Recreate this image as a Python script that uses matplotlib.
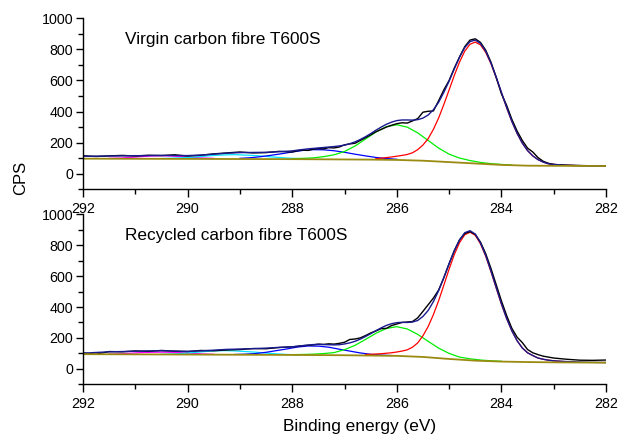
import matplotlib
matplotlib.use("Agg")
import matplotlib.pyplot as plt
from matplotlib.ticker import MultipleLocator

plt.rcParams['font.family'] = ['Liberation Sans', 'DejaVu Sans']

# ---------------- shared energy grid for raw data and envelope ----------------
energy = [292.0, 291.75, 291.5, 291.25, 291.0, 290.75, 290.5, 290.25, 290.0, 289.75,
          289.5, 289.25, 289.0, 288.75, 288.5, 288.25,
          288.0, 287.9, 287.8, 287.7, 287.6, 287.5, 287.4, 287.3, 287.2, 287.1,
          287.0, 286.9, 286.8, 286.7, 286.6, 286.5, 286.4, 286.3, 286.2, 286.1,
          286.0, 285.9, 285.8, 285.7, 285.6, 285.5, 285.4, 285.3, 285.2, 285.1,
          285.0, 284.9, 284.8, 284.7, 284.6, 284.5, 284.4, 284.3, 284.2, 284.1,
          284.0, 283.9, 283.8, 283.7, 283.6, 283.5, 283.4, 283.3, 283.2, 283.1,
          283.0, 282.75, 282.5, 282.25, 282.0]

# ---------------- Virgin (top) ----------------
virgin_raw = [116, 111, 115, 118, 114, 119, 117, 122, 114, 119,
              128, 134, 140, 134, 136, 144,
              140, 148, 152, 150, 158, 162, 160, 168, 166, 172,
              186, 192, 196, 214, 232, 250, 270, 285, 300, 312,
              322, 328, 326, 340, 355, 396, 402, 404, 470, 540,
              600, 680, 752, 818, 860, 868, 845, 795, 718, 620,
              515, 440, 350, 275, 214, 165, 140, 104, 80, 67,
              60, 55, 53, 51, 52]
virgin_env = [112, 113, 114, 115, 116, 117, 118, 117, 117, 120,
              126, 132, 136, 137, 138, 142,
              147, 152, 156, 160, 163, 166, 169, 172, 175, 179,
              184, 193, 205, 220, 238, 258, 280, 300, 318, 332,
              342, 346, 346, 345, 348, 358, 378, 412, 460, 524,
              596, 675, 750, 812, 850, 860, 838, 788, 713, 623,
              524, 427, 337, 260, 197, 149, 115, 91, 75, 64,
              60, 54, 52, 51, 50]

virgin_bg_e = [292.0, 288.0, 287.0, 286.5, 286.0, 285.5, 285.0, 284.5, 284.0, 283.5, 283.0, 282.0]
virgin_bg = [97, 94, 92, 91, 89, 84, 75, 66, 57, 52, 51, 50]

virgin_cc_e = [286.4, 286.3, 286.2, 286.1, 286.0, 285.9, 285.8, 285.7, 285.6, 285.5,
               285.4, 285.3, 285.2, 285.1, 285.0, 284.9, 284.8, 284.7, 284.6, 284.5,
               284.4, 284.3, 284.2, 284.1, 284.0, 283.9, 283.8, 283.7, 283.6, 283.5,
               283.4, 283.3, 283.2, 283.1, 283.0, 282.9, 282.8, 282.7, 282.6]
virgin_cc = [97, 100, 104, 108, 113, 118, 124, 135, 155, 185,
             226, 286, 359, 446, 539, 633, 719, 789, 833, 847,
             829, 781, 708, 619, 521, 425, 336, 260, 197, 149,
             115, 91, 75, 64, 60, 57, 55, 54, 53]

virgin_co_e = [288.0, 287.8, 287.6, 287.4, 287.2, 287.0, 286.8, 286.6, 286.4, 286.2,
               286.0, 285.8, 285.6, 285.4, 285.2, 285.0, 284.8, 284.6, 284.4, 284.2,
               284.0, 283.8]
virgin_co = [97, 99, 102, 110, 122, 143, 178, 223, 268, 303,
             315, 300, 263, 214, 165, 126, 101, 85, 73, 65,
             60, 56]

virgin_c3_e = [289.0, 288.8, 288.6, 288.4, 288.2, 288.0, 287.8, 287.6, 287.4, 287.2,
               287.0, 286.8, 286.6, 286.4, 286.2, 286.0]
virgin_c3 = [99, 103, 110, 119, 129, 140, 150, 155, 154, 148,
             138, 126, 115, 105, 98, 93]

virgin_c4_e = [290.5, 290.3, 290.1, 289.9, 289.7, 289.5, 289.3, 289.1, 288.9, 288.7,
               288.5, 288.3, 288.1, 287.9, 287.7]
virgin_c4 = [98, 100, 103, 107, 112, 118, 121, 123, 120, 117,
             111, 106, 101, 98, 96]

virgin_c5_e = [291.5, 291.3, 291.1, 290.9, 290.7, 290.5, 290.3, 290.1, 289.9, 289.7, 289.5]
virgin_c5 = [99, 101, 105, 110, 114, 116, 114, 110, 105, 101, 99]

# ---------------- Recycled (bottom) ----------------
recycled_raw = [103, 95, 112, 110, 116, 113, 119, 114, 112, 119,
                117, 122, 125, 131, 130, 138,
                143, 145, 150, 152, 155, 160, 158, 162, 160, 165,
                172, 190, 193, 200, 215, 232, 245, 260, 262, 280,
                290, 300, 303, 306, 330, 372, 415, 458, 510, 590,
                680, 765, 835, 876, 888, 870, 820, 745, 650, 545,
                440, 345, 262, 205, 170, 125, 104, 92, 82, 76,
                70, 62, 56, 55, 57]
recycled_env = [101, 106, 110, 112, 114, 116, 117, 115, 113, 116,
                121, 126, 128, 131, 134, 139,
                142, 147, 150, 154, 157, 158, 157, 156, 155, 156,
                161, 168, 178, 192, 209, 227, 247, 265, 281, 292,
                299, 301, 300, 303, 313, 339, 378, 435, 506, 591,
                681, 765, 834, 881, 894, 872, 815, 734, 633, 527,
                421, 326, 246, 182, 135, 104, 86, 70, 62, 56,
                52, 47, 44, 42, 41]

recycled_bg_e = [292.0, 288.0, 287.0, 286.5, 286.0, 285.5, 285.0, 284.5, 284.0, 283.5, 283.0, 282.0]
recycled_bg = [95, 90, 88, 86, 84, 77, 64, 53, 47, 44, 42, 40]

recycled_cc_e = [286.6, 286.5, 286.4, 286.3, 286.2, 286.1, 286.0, 285.9, 285.8, 285.7,
                 285.6, 285.5, 285.4, 285.3, 285.2, 285.1, 285.0, 284.9, 284.8, 284.7,
                 284.6, 284.5, 284.4, 284.3, 284.2, 284.1, 284.0, 283.9, 283.8, 283.7,
                 283.6, 283.5, 283.4, 283.3, 283.2, 283.1, 283.0, 282.9, 282.8, 282.7,
                 282.6]
recycled_cc = [93, 94, 96, 98, 101, 104, 109, 115, 123, 140,
               168, 214, 274, 351, 441, 542, 645, 740, 817, 868,
               884, 864, 809, 729, 630, 524, 419, 326, 246, 182,
               135, 104, 86, 70, 62, 56, 52, 49, 47, 45,
               44]

recycled_co_e = [288.0, 287.8, 287.6, 287.4, 287.2, 287.0, 286.8, 286.6, 286.4, 286.2,
                 286.0, 285.8, 285.6, 285.4, 285.2, 285.0, 284.8, 284.6, 284.4, 284.2,
                 284.0]
recycled_co = [92, 93, 95, 99, 105, 124, 152, 190, 230, 261,
               273, 258, 223, 178, 134, 100, 76, 65, 57, 52,
               49]

recycled_c3_e = [289.1, 288.9, 288.7, 288.5, 288.3, 288.1, 287.9, 287.7, 287.5, 287.3,
                 287.1, 286.9, 286.7, 286.5, 286.3, 286.1]
recycled_c3 = [93, 95, 99, 107, 118, 129, 141, 148, 147, 140,
               127, 115, 103, 94, 89, 86]

recycled_c4_e = [290.5, 290.3, 290.1, 289.9, 289.7, 289.5, 289.3, 289.1, 288.9, 288.7,
                 288.5, 288.3, 288.1, 287.9]
recycled_c4 = [94, 96, 100, 105, 111, 116, 118, 116, 112, 108,
               102, 97, 93, 91]

recycled_c5_e = [291.5, 291.3, 291.1, 290.9, 290.7, 290.5, 290.3, 290.1, 289.9, 289.7, 289.5]
recycled_c5 = [95, 97, 101, 105, 107, 108, 107, 104, 100, 96, 94]

panel_titles = ["Virgin carbon fibre T600S", "Recycled carbon fibre T600S"]
x_ticks = [292, 290, 288, 286, 284, 282]
y_ticks = [0, 200, 400, 600, 800, 1000]

panels = [
    dict(raw=virgin_raw, env=virgin_env, bg=(virgin_bg_e, virgin_bg),
         comps=[(virgin_c5_e, virgin_c5, '#ff00ff'), (virgin_c4_e, virgin_c4, '#00e5ff'),
                (virgin_c3_e, virgin_c3, '#0000ff'), (virgin_co_e, virgin_co, '#00ee00'),
                (virgin_cc_e, virgin_cc, '#ff0000')]),
    dict(raw=recycled_raw, env=recycled_env, bg=(recycled_bg_e, recycled_bg),
         comps=[(recycled_c5_e, recycled_c5, '#ff00ff'), (recycled_c4_e, recycled_c4, '#00e5ff'),
                (recycled_c3_e, recycled_c3, '#0000ff'), (recycled_co_e, recycled_co, '#00ee00'),
                (recycled_cc_e, recycled_cc, '#ff0000')]),
]

W, H = 633, 436
fig = plt.figure(figsize=(W / 100, H / 100), dpi=100)
rects = [[83 / W, 1 - 189.3 / H, 523 / W, 171 / H],
         [83 / W, 1 - 384.3 / H, 523 / W, 170 / H]]

for i, (p, r) in enumerate(zip(panels, rects)):
    ax = fig.add_axes(r)
    ax.set_facecolor('none')
    be, bv = p['bg']
    for ce, cv, col in p['comps']:
        ax.plot(ce, cv, color=col, lw=0.9)
    ax.plot(energy, p['raw'], color='black', lw=1.0)
    ax.plot(energy, p['env'], color='#1a1a90', lw=1.0)
    ax.plot(be, bv, color='#9a8a10', lw=1.3)
    ax.set_xlim(292, 282)
    ax.set_ylim(-100, 1000)
    ax.set_xticks(x_ticks)
    ax.set_xticklabels([str(t) for t in x_ticks])
    ax.set_yticks(y_ticks)
    ax.set_yticklabels([str(t) for t in y_ticks])
    ax.xaxis.set_minor_locator(MultipleLocator(1))
    ax.yaxis.set_minor_locator(MultipleLocator(100))
    for s in ['top', 'right']:
        ax.spines[s].set_visible(False)
    for s in ['left', 'bottom']:
        ax.spines[s].set_linewidth(1.0)
    ax.tick_params(axis='x', which='major', direction='out', length=6, width=1.0,
                   labelsize=10.3, pad=3)
    ax.tick_params(axis='y', which='major', direction='out', length=5, width=1.0,
                   labelsize=10.3, pad=2)
    ax.tick_params(axis='both', which='minor', direction='out', length=3.3, width=1.0)
    ax.text(42 / 523, 1 - 21 / 171, panel_titles[i], fontsize=12.4, va='center',
            ha='left', transform=ax.transAxes)

fig.text(360 / W, 1 - 426 / H, "Binding energy (eV)", fontsize=12.4, ha='center', va='center')
fig.text(20.5 / W, 1 - 178 / H, "CPS", rotation=90, fontsize=12, ha='center', va='center')
fig.savefig("out.png", dpi=100)
